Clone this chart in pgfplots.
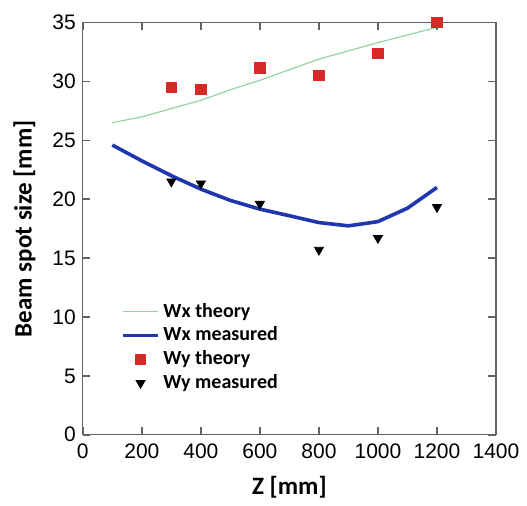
\documentclass[border=0pt]{standalone}
\usepackage{pgfplots}
\pgfplotsset{compat=1.18}
\usepackage{fontspec}
\setmainfont{Liberation Sans}
\newfontfamily\calib{Carlito}
\definecolor{thgreen}{RGB}{150,210,165}
\definecolor{msblue}{RGB}{30,55,175}
\definecolor{thred}{RGB}{215,40,40}
\definecolor{axgray}{RGB}{100,100,100}
\begin{document}
\begin{tikzpicture}
\begin{axis}[
  at={(0,0)}, anchor=south west,
  scale only axis, width=206.5pt, height=206pt,
  xmin=0, xmax=1400, ymin=0, ymax=35,
  xtick={0,200,...,1400}, ytick={0,5,...,35},
  xtick align=inside, ytick align=inside,
  major tick length=3.8pt,
  xtick pos=both, ytick pos=both,
  axis line style={axgray, line width=0.6pt},
  major tick style={draw=axgray, line width=0.8pt},
  tick label style={font=\fontsize{10.5}{12}\selectfont, black},
  /pgf/number format/assume math mode=true,
  /pgf/number format/1000 sep={},
  xticklabel style={yshift=-1pt},
  xlabel={\calib\bfseries Z [mm]},
  ylabel={\calib\bfseries Beam spot size [mm]},
  label style={font=\fontsize{12.5}{14}\selectfont},
  xlabel style={yshift=-2pt},
  ylabel style={yshift=1.5pt},
  legend style={draw=none, fill=none, at={(axis cs:110,2.95)}, anchor=south west,
    font=\calib\bfseries\fontsize{10}{11.8}\selectfont, row sep=-0.6pt},
  legend cell align=left,
]
\addplot[thgreen, line width=0.6pt] coordinates {
 (100,26.5) (200,27.0) (300,27.7) (400,28.4) (500,29.3) (600,30.1)
 (700,31.0) (800,31.9) (900,32.6) (1000,33.3) (1100,33.95) (1200,34.6)};
\addlegendentry{Wx theory}
\addplot[msblue, line width=1.8pt] coordinates {
 (100,24.6) (200,23.26) (300,22.0) (400,20.86) (500,19.9) (600,19.16)
 (700,18.6) (800,18.02) (900,17.74) (1000,18.1) (1100,19.24) (1200,21.0)};
\addlegendentry{Wx measured}
\addplot[only marks, mark=square*, mark size=2.6pt, thred, mark options={draw=thred, fill=thred}] coordinates {
 (300,29.5) (400,29.35) (600,31.15) (800,30.5) (1000,32.4) (1200,35.0)};
\addlegendentry{Wy theory}
\addplot[only marks, mark=triangle*, mark size=2.6pt, black, mark options={rotate=180}] coordinates {
 (300,21.5) (400,21.33) (600,19.6) (800,15.7) (1000,16.7) (1200,19.33)};
\addlegendentry{Wy measured}
\end{axis}
\useasboundingbox (-41.4pt,-31.5pt) rectangle (222pt,217.3pt);
\end{tikzpicture}
\end{document}
